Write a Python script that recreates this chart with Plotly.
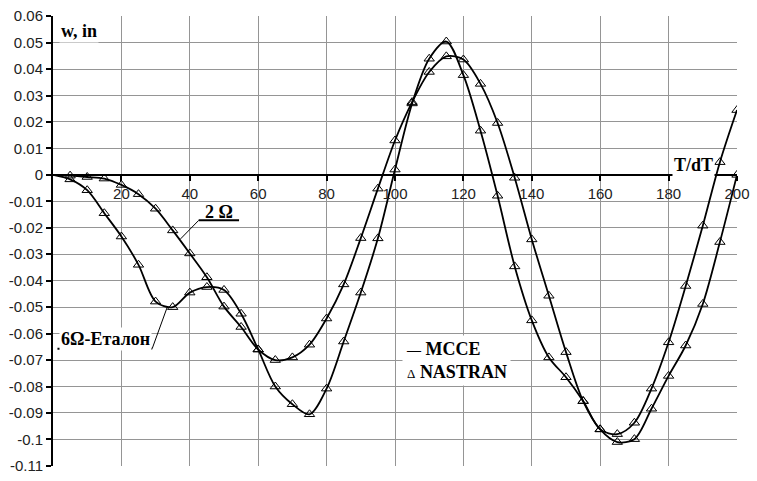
import plotly.graph_objects as go

# ---- data ----
t = [0, 5, 10, 15, 20, 25, 30, 35, 40, 45, 50, 55, 60, 65, 70, 75, 80, 85, 90, 95, 100,
     105, 110, 115, 120, 125, 130, 135, 140, 145, 150, 155, 160, 165, 170, 175, 180, 185, 190, 195, 200]

w_2omega = [0.0, -0.0003, -0.0008, -0.0014, -0.0038, -0.0073, -0.0128, -0.0210, -0.0297, -0.0387,
            -0.0498, -0.0575, -0.0660, -0.0700, -0.0690, -0.0642, -0.0543, -0.0414, -0.0239, -0.0052,
            0.0130, 0.0275, 0.0389, 0.0448, 0.0436, 0.0344, 0.0196, -0.0011, -0.0244, -0.0457,
            -0.0670, -0.0855, -0.0962, -0.1010, -0.0999, -0.0884, -0.0760, -0.0645, -0.0488, -0.0254,
            0.0]

w_6omega = [0.0, -0.0017, -0.0058, -0.0145, -0.0233, -0.0340, -0.0479, -0.0500, -0.0445, -0.0424,
            -0.0435, -0.0525, -0.0660, -0.0800, -0.0867, -0.0905, -0.0808, -0.0630, -0.0445, -0.0240,
            0.0020, 0.0270, 0.0439, 0.0504, 0.0377, 0.0167, -0.0079, -0.0346, -0.0550, -0.0690,
            -0.0765, -0.0855, -0.0962, -0.0980, -0.0937, -0.0808, -0.0633, -0.0420, -0.0192, 0.0048,
            0.0245]

y_tickvals = [0.06, 0.05, 0.04, 0.03, 0.02, 0.01, 0, -0.01, -0.02, -0.03, -0.04, -0.05, -0.06,
              -0.07, -0.08, -0.09, -0.1, -0.11]
y_ticktext = ["0.06", "0.05", "0.04", "0.03", "0.02", "0.01", "0", "-0.01", "-0.02", "-0.03",
              "-0.04", "-0.05", "-0.06", "-0.07", "-0.08", "-0.09", "-0.1", "-0.11"]
x_tickvals = [20, 40, 60, 80, 100, 120, 140, 160, 180, 200]
x_ticktext = ["20", "40", "60", "80", "100", "120", "140", "160", "180", "200"]

Y_MIN, Y_MAX = -0.11005, 0.06005

fig = go.Figure()
for ys in (w_2omega, w_6omega):
    fig.add_trace(go.Scatter(x=t, y=ys, mode="lines",
                             line=dict(color="black", width=1.8, shape="spline", smoothing=0.9),
                             showlegend=False, hoverinfo="skip"))
for ys in (w_2omega, w_6omega):
    fig.add_trace(go.Scatter(x=t[1:], y=ys[1:], mode="markers",
                             marker=dict(symbol="triangle-up-open", size=9,
                                         color="black", line=dict(width=1, color="black")),
                             showlegend=False, hoverinfo="skip"))

serif = "Liberation Serif"
lab_font = dict(family=serif, size=18, color="black")

annotations = [
    dict(x=1.8, y=0.0545, xref="x", yref="y", text="<b>w, in</b>", showarrow=False,
         xanchor="left", yanchor="middle", font=lab_font, bgcolor="white"),
    dict(x=187.4, y=0.0037, xref="x", yref="y", text="<b>T/dT</b>", showarrow=False,
         xanchor="center", yanchor="middle", font=lab_font, bgcolor="white"),
    dict(x=48.5, y=-0.0140, xref="x", yref="y", text="<b>2 Ω</b>", showarrow=False,
         xanchor="center", yanchor="middle", font=lab_font),
    dict(x=15.3, y=-0.0620, xref="x", yref="y", text="<b>6Ω-Еталон</b>", showarrow=False,
         xanchor="center", yanchor="middle", font=lab_font, bgcolor="white"),
    dict(x=102.0, y=-0.0700, xref="x", yref="y",
         text="<span style='font-size:14px'><b>—</b></span> <b>MCCE</b><br>"
              "<span style='font-size:13px'>Δ</span> <b>NASTRAN</b>",
         showarrow=False, xanchor="left", yanchor="middle", align="left",
         font=lab_font, bgcolor="white", borderpad=3),
]

shapes = [
    # 2Ω underline and leader
    dict(type="line", xref="x", yref="y", x0=42.6, y0=-0.0172, x1=54.4, y1=-0.0172,
         line=dict(color="black", width=2)),
    dict(type="line", xref="x", yref="y", x0=42.6, y0=-0.0172, x1=37.3, y1=-0.0242,
         line=dict(color="black", width=1)),
    # 6Ω underline and leader
    dict(type="line", xref="x", yref="y", x0=1.3, y0=-0.0657, x1=29.0, y1=-0.0657,
         line=dict(color="black", width=2)),
    dict(type="line", xref="x", yref="y", x0=29.0, y0=-0.0657, x1=33.4, y1=-0.0500,
         line=dict(color="black", width=1)),
]

tick_font = dict(family="Liberation Sans", size=15, color="#222222")

fig.update_layout(
    width=757, height=481,
    margin=dict(l=53, r=13, t=15, b=7),
    paper_bgcolor="white", plot_bgcolor="white",
    showlegend=False,
    annotations=annotations,
    shapes=shapes,
    xaxis=dict(range=[0, 200], tickvals=x_tickvals, ticktext=x_ticktext,
               showgrid=True, gridcolor="#959595", gridwidth=1,
               zeroline=False, showline=True, linecolor="black", linewidth=2,
               anchor="free", position=(0 - Y_MIN) / (Y_MAX - Y_MIN),
               ticks="outside", ticklen=5, tickcolor="black", tickwidth=2,
               tickfont=tick_font),
    yaxis=dict(range=[Y_MIN, Y_MAX], tickvals=y_tickvals, ticktext=y_ticktext,
               showgrid=True, gridcolor="#959595", gridwidth=1,
               zeroline=False, showline=True, linecolor="black", linewidth=2,
               ticks="outside", ticklen=5, tickcolor="black", tickwidth=2,
               tickfont=tick_font, ticklabeloverflow="allow"),
)

fig.write_html(
    "out.html",
    config={"displayModeBar": False},
    post_script=("document.body.style.margin='0';"
                 "document.body.style.overflow='hidden';"
                 "document.documentElement.style.overflow='hidden';"),
)
